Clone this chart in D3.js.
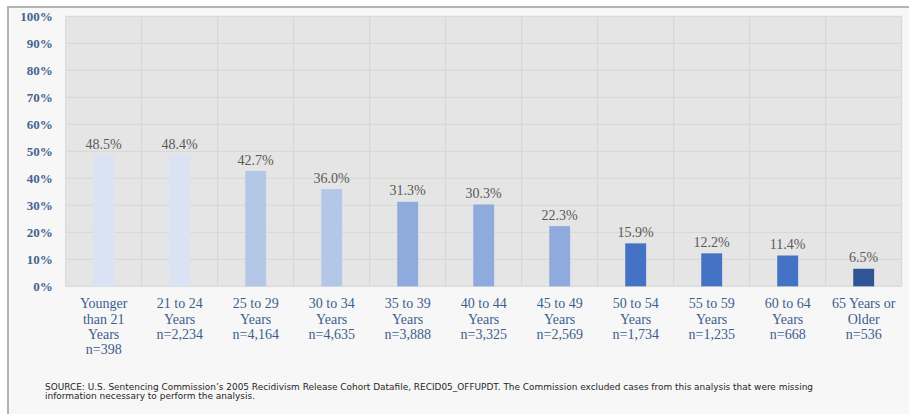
<!DOCTYPE html>
<html><head><meta charset="utf-8">
<script src="https://cdn.jsdelivr.net/npm/d3@7"></script>
<style>html,body{margin:0;padding:0;background:#fff;}svg{display:block;}</style>
</head><body>
<svg id="chart" width="909" height="414"></svg>
<script>
const categories = [
  ["Younger","than 21","Years","n=398"],
  ["21 to 24","Years","n=2,234"],
  ["25 to 29","Years","n=4,164"],
  ["30 to 34","Years","n=4,635"],
  ["35 to 39","Years","n=3,888"],
  ["40 to 44","Years","n=3,325"],
  ["45 to 49","Years","n=2,569"],
  ["50 to 54","Years","n=1,734"],
  ["55 to 59","Years","n=1,235"],
  ["60 to 64","Years","n=668"],
  ["65 Years or","Older","n=536"]
];
const values = [48.5, 48.4, 42.7, 36.0, 31.3, 30.3, 22.3, 15.9, 12.2, 11.4, 6.5];
const barColors = ["#DAE3F3","#DAE3F3","#B4C7E7","#B4C7E7","#8FAADC","#8FAADC","#8FAADC","#4472C4","#4472C4","#4472C4","#2F5597"];
const yTicks = [0,10,20,30,40,50,60,70,80,90,100];
const sourceLines = [
  "SOURCE: U.S. Sentencing Commission\u2019s 2005 Recidivism Release Cohort Datafile, RECID05_OFFUPDT. The Commission excluded cases from this analysis that were missing",
  "information necessary to perform the analysis."
];

(function(){
const svg = d3.select("#chart");
const W = 909, H = 414;
const pL = 65.7, pR = 901.7, pT = 16.3, pB = 286.3;

// frame
svg.append("rect").attr("x",8).attr("y",7).attr("width",W-8).attr("height",H-7).attr("fill","#F7F7F7");
svg.append("line").attr("x1",7).attr("x2",W).attr("y1",7).attr("y2",7).attr("stroke","#B3B5B3").attr("stroke-width",2);
svg.append("line").attr("x1",8).attr("x2",8).attr("y1",6).attr("y2",H).attr("stroke","#B3B5B3").attr("stroke-width",2);

const ids = categories.map((c,i)=>i);
const x = d3.scaleBand().domain(ids).range([pL,pR]).padding(0);
const y = d3.scaleLinear().domain([0,100]).range([pB,pT]);

// plot bg
svg.append("rect").attr("x",pL).attr("y",pT).attr("width",pR-pL).attr("height",pB-pT).attr("fill","#E5E5E5");

// horizontal grid
svg.append("g").selectAll("line").data(yTicks).join("line")
  .attr("x1",pL).attr("x2",pR)
  .attr("y1",d=>y(d)).attr("y2",d=>y(d))
  .attr("stroke","#D6D6D6").attr("stroke-width",1);
// vertical grid
svg.append("g").selectAll("line").data(ids.concat([ids.length])).join("line")
  .attr("x1",d=>d<ids.length?x(d):pR).attr("x2",d=>d<ids.length?x(d):pR)
  .attr("y1",pT).attr("y2",pB)
  .attr("stroke","#D6D6D6").attr("stroke-width",1);

// bars
const bw = x.bandwidth()*0.275;
svg.append("g").selectAll("rect").data(values).join("rect")
  .attr("x",(d,i)=>x(i)+x.bandwidth()/2-bw/2)
  .attr("y",d=>y(d))
  .attr("width",bw)
  .attr("height",d=>y(0)-y(d))
  .attr("fill",(d,i)=>barColors[i]);

// value labels
svg.append("g").selectAll("text").data(values).join("text")
  .attr("x",(d,i)=>x(i)+x.bandwidth()/2)
  .attr("y",d=>y(d)-6.5)
  .attr("text-anchor","middle")
  .attr("font-family","'Liberation Serif', serif")
  .attr("font-size",14)
  .attr("fill","#595959")
  .text(d=>d.toFixed(1)+"%");

// y axis labels
svg.append("g").selectAll("text").data(yTicks).join("text")
  .attr("x",52.7)
  .attr("y",d=>y(d)+4.6)
  .attr("text-anchor","end")
  .attr("font-family","'Liberation Serif', serif")
  .attr("font-weight","bold")
  .attr("font-size",13)
  .attr("fill","#44648F")
  .text(d=>d+"%");

// x labels
const xl = svg.append("g").selectAll("text").data(categories).join("text")
  .attr("text-anchor","middle")
  .attr("font-family","'Liberation Serif', serif")
  .attr("font-size",14)
  .attr("fill","#3D5E8C");
xl.each(function(lines,i){
  const t = d3.select(this);
  lines.forEach((ln,j)=>{
    t.append("tspan").attr("x",x(i)+x.bandwidth()/2).attr("y",308.3+j*15.3).text(ln);
  });
});

// source
const srcLen = [768, 210];
svg.append("g").selectAll("text").data(sourceLines).join("text")
  .attr("x",45)
  .attr("y",(d,i)=>390+i*9)
  .attr("font-family","'DejaVu Sans', sans-serif")
  .attr("font-size",8.6)
  .attr("fill","#262626")
  .attr("textLength",(d,i)=>srcLen[i])
  .attr("lengthAdjust","spacingAndGlyphs")
  .text(d=>d);
})();
</script>
</body></html>
